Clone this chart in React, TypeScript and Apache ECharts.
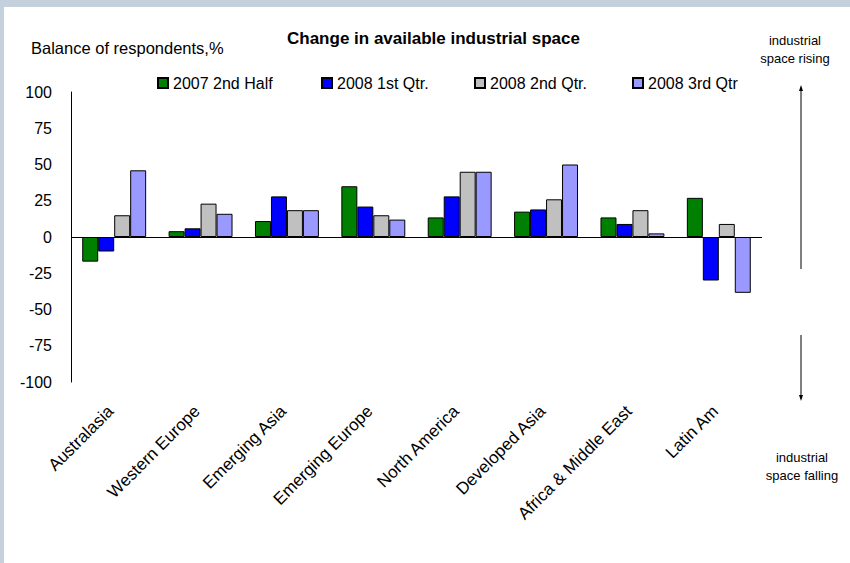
import React, { useEffect, useRef } from "react";
import * as echarts from "echarts";

const categories = [
  "Australasia",
  "Western Europe",
  "Emerging Asia",
  "Emerging Europe",
  "North America",
  "Developed Asia",
  "Africa & Middle East",
  "Latin Am",
];

const seriesNames = ["2007 2nd Half", "2008 1st Qtr.", "2008 2nd Qtr.", "2008 3rd Qtr"];

const h2_2007 = [-17, 4, 11, 35, 13.5, 17.5, 13.5, 27];
const q1_2008 = [-10, 6, 28, 21, 28, 19, 9, -30];
const q2_2008 = [15, 23, 18.5, 15, 45, 26, 18.5, 9];
const q3_2008 = [46, 16, 18.5, 12, 45, 50, 2.5, -38.5];

const seriesValues = [h2_2007, q1_2008, q2_2008, q3_2008];
const seriesColors = ["#008000", "#0000ff", "#c0c0c0", "#9999ff"];

const yTicks = { min: -100, max: 100, interval: 25 };

const FONT = "'Liberation Sans', Arial, sans-serif";

export default function App() {
  const ref = useRef<HTMLDivElement>(null);

  useEffect(() => {
    if (!ref.current) return;
    const chart = echarts.init(ref.current, undefined, { renderer: "svg" });
    const legendLefts = [157, 321, 474, 632];

    const option: any = {
      animation: false,
      backgroundColor: "#ffffff",
      textStyle: { fontFamily: FONT, color: "#000" },
      title: {
        text: "Change in available industrial space",
        left: 287,
        top: 30,
        padding: 0,
        textStyle: { fontFamily: FONT, fontSize: 17, fontWeight: "bold", color: "#000" },
      },
      legend: seriesNames.map((n, i) => ({
        data: [n],
        left: legendLefts[i],
        top: 75,
        padding: 0,
        itemWidth: 10,
        itemHeight: 10,
        itemGap: 5,
        icon: "rect",
        selectedMode: false,
        textStyle: { fontFamily: FONT, fontSize: 16, color: "#000" },
      })),
      grid: { left: 71, right: 88, top: 92, bottom: 181, containLabel: false },
      xAxis: {
        type: "category",
        data: categories,
        axisLine: { show: false },
        axisTick: { show: false },
        axisLabel: {
          interval: 0,
          rotate: 45,
          margin: 23,
          padding: [0, 5, 0, 0],
          fontFamily: FONT,
          fontSize: 17,
          color: "#000",
        },
      },
      yAxis: {
        type: "value",
        min: yTicks.min,
        max: yTicks.max,
        interval: yTicks.interval,
        axisLine: { show: true, onZero: false, lineStyle: { color: "#000", width: 1 } },
        axisTick: { show: false },
        splitLine: { show: false },
        axisLabel: { margin: 19, fontFamily: FONT, fontSize: 16, color: "#000" },
      },
      series: seriesNames.map((n, i) => ({
        name: n,
        type: "bar",
        data: seriesValues[i],
        barGap: "0%",
        barCategoryGap: "26%",
        itemStyle: { color: seriesColors[i], borderColor: "#000", borderWidth: 1 },
        ...(i === 0
          ? {
              markLine: {
                silent: true,
                symbol: "none",
                label: { show: false },
                lineStyle: { color: "#000", width: 1, type: "solid" },
                data: [{ yAxis: 0 }],
              },
            }
          : {}),
      })),
      graphic: [
        { type: "rect", shape: { x: 0, y: 0, width: 850, height: 7 }, style: { fill: "#c4d1dd" }, silent: true },
        { type: "rect", shape: { x: 0, y: 0, width: 4, height: 563 }, style: { fill: "#c4d1dd" }, silent: true },
        {
          type: "text",
          x: 31,
          y: 48,
          style: { text: "Balance of respondents,%", font: `16.5px ${FONT}`, fill: "#000", textVerticalAlign: "middle", textAlign: "left" },
        },
        {
          type: "text",
          x: 795,
          y: 40,
          style: { text: "industrial", font: `13px ${FONT}`, fill: "#000", textAlign: "center", textVerticalAlign: "middle" },
        },
        {
          type: "text",
          x: 795,
          y: 58,
          style: { text: "space rising", font: `13px ${FONT}`, fill: "#000", textAlign: "center", textVerticalAlign: "middle" },
        },
        {
          type: "text",
          x: 802,
          y: 457,
          style: { text: "industrial", font: `13px ${FONT}`, fill: "#000", textAlign: "center", textVerticalAlign: "middle" },
        },
        {
          type: "text",
          x: 802,
          y: 475,
          style: { text: "space falling", font: `13px ${FONT}`, fill: "#000", textAlign: "center", textVerticalAlign: "middle" },
        },
        { type: "line", shape: { x1: 801, y1: 269, x2: 801, y2: 90 }, style: { stroke: "#000", lineWidth: 1 } },
        { type: "polygon", shape: { points: [[801, 85], [799, 91], [803, 91]] }, style: { fill: "#000" } },
        { type: "line", shape: { x1: 801, y1: 335, x2: 801, y2: 396 }, style: { stroke: "#000", lineWidth: 1 } },
        { type: "polygon", shape: { points: [[801, 401], [799, 395], [803, 395]] }, style: { fill: "#000" } },
      ],
    };

    chart.setOption(option);
    return () => chart.dispose();
  }, []);

  return (
    <div
      ref={ref}
      style={{ position: "absolute", left: 0, top: 0, width: 850, height: 563, background: "#fff" }}
    />
  );
}
